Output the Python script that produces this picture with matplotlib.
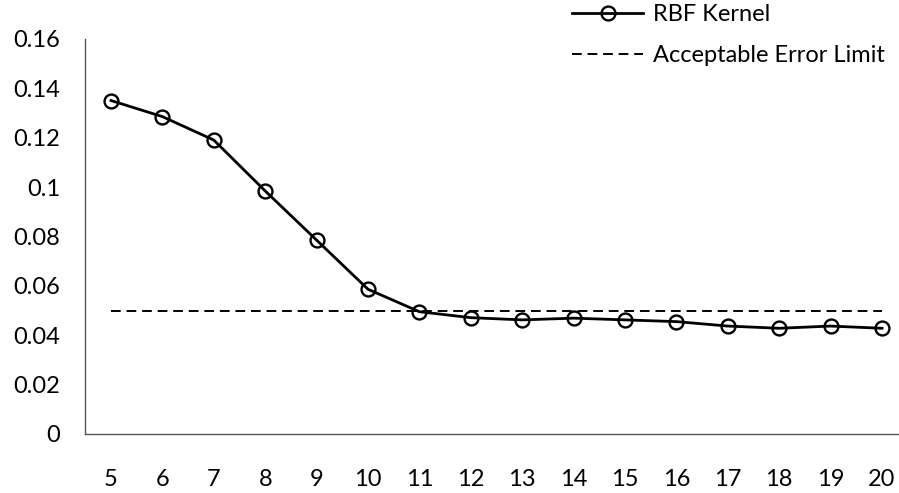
import matplotlib
matplotlib.use("Agg")
import matplotlib.pyplot as plt

plt.rcParams['font.family'] = ['Lato', 'DejaVu Sans']

kernel_sizes = [5, 6, 7, 8, 9, 10, 11, 12, 13, 14, 15, 16, 17, 18, 19, 20]
rbf_error = [0.135, 0.1285, 0.119, 0.0984, 0.0785, 0.0586, 0.0495, 0.0471,
             0.0462, 0.0469, 0.0462, 0.0455, 0.0437, 0.0428, 0.0437, 0.0428]
error_limit = 0.05
y_ticks = [0, 0.02, 0.04, 0.06, 0.08, 0.1, 0.12, 0.14, 0.16]
y_tick_labels = ['0', '0.02', '0.04', '0.06', '0.08', '0.1', '0.12', '0.14', '0.16']

W, H = 899, 493
fig = plt.figure(figsize=(W / 100, H / 100), dpi=100)
ax = fig.add_axes([85.3 / W, 1 - 434 / H, (907.7 - 85.3) / W, (434 - 38.8) / H])

ax.plot(kernel_sizes, rbf_error, color='black', lw=2.0, marker='o',
        markersize=10, markerfacecolor='none', markeredgecolor='black',
        markeredgewidth=1.7, label='RBF Kernel', clip_on=False)
ax.plot([kernel_sizes[0], kernel_sizes[-1]], [error_limit, error_limit],
        color='black', lw=1.4, ls=(0, (5, 3)), label='Acceptable Error Limit')

ax.set_xlim(4.5, 20.5)
ax.set_ylim(0, 0.16)
ax.set_xticks(kernel_sizes)
ax.set_xticklabels([str(k) for k in kernel_sizes])
ax.set_yticks(y_ticks)
ax.set_yticklabels(y_tick_labels)
ax.tick_params(axis='both', length=0, labelsize=17)
ax.tick_params(axis='y', pad=18)
ax.tick_params(axis='x', pad=25)
for s in ('top', 'right'):
    ax.spines[s].set_visible(False)
for s in ('left', 'bottom'):
    ax.spines[s].set_color('#555555')
    ax.spines[s].set_linewidth(1.0)

fig.legend(loc='upper left', bbox_to_anchor=(551 / W, 1.035), frameon=False,
           fontsize=17, handlelength=3.0, handletextpad=0.4, labelspacing=0.85)

fig.savefig('out.png', dpi=100)
